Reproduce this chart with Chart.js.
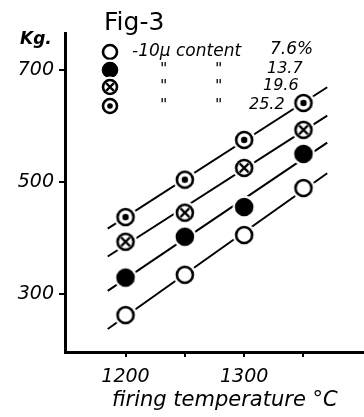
<!DOCTYPE html>
<html>
<head>
<meta charset="utf-8">
<script src="https://cdn.jsdelivr.net/npm/chart.js@4"></script>
<style>
  body { margin: 0; background: #fff; }
</style>
</head>
<body>
<canvas id="fig3" width="364" height="417"></canvas>
<script>
// firing temperature (°C) and strength (kg) for each -10μ content
const temps = [1200, 1250, 1300, 1350];
const c76 = [262, 334, 405, 489];
const c137 = [329, 402, 455, 550];
const c196 = [393, 445, 525, 593];
const c252 = [437, 504, 575, 641];
const contents = ['7.6%', '13.7', '19.6', '25.2'];
const yLabels = [300, 500, 700];
const yTickMarks = [300, 400, 500, 600, 700];
const xLabels = [1200, 1300];
const xTickMarks = [1200, 1250, 1300, 1350];

const hand = "'DejaVu Sans'";
const lineFrom = 1185, lineTo = 1370;

// hand-drawn style markers, white halo leaves a gap in the line
function marker(kind, r) {
  const c = document.createElement('canvas');
  const s = Math.ceil(r * 2 + 10);
  c.width = c.height = s;
  const g = c.getContext('2d');
  const m = s / 2;
  g.fillStyle = '#fff';
  g.beginPath(); g.arc(m, m, r + 3.5, 0, Math.PI * 2); g.fill();
  g.lineWidth = 2.6; g.strokeStyle = '#000';
  g.beginPath(); g.arc(m, m, r, 0, Math.PI * 2);
  if (kind === 'filled') { g.fillStyle = '#000'; g.fill(); }
  g.stroke();
  if (kind === 'cross') {
    const d = r * 0.55;
    g.lineWidth = 2.2;
    g.beginPath();
    g.moveTo(m - d, m - d); g.lineTo(m + d, m + d);
    g.moveTo(m + d, m - d); g.lineTo(m - d, m + d);
    g.stroke();
  }
  if (kind === 'dot') {
    g.fillStyle = '#000';
    g.beginPath(); g.arc(m, m, r * 0.4, 0, Math.PI * 2); g.fill();
  }
  return c;
}

// least squares line through a series
function fit(ys) {
  const n = temps.length;
  const mx = temps.reduce((a, b) => a + b) / n;
  const my = ys.reduce((a, b) => a + b) / n;
  let sxy = 0, sxx = 0;
  temps.forEach((x, i) => { sxy += (x - mx) * (ys[i] - my); sxx += (x - mx) ** 2; });
  const k = sxy / sxx;
  return [lineFrom, lineTo].map(x => ({ x: x, y: my + k * (x - mx) }));
}

const series = [
  { ys: c76, kind: 'open' },
  { ys: c137, kind: 'filled' },
  { ys: c196, kind: 'cross' },
  { ys: c252, kind: 'dot' }
];

const datasets = [];
series.forEach((s, i) => {
  datasets.push({
    label: contents[i],
    data: temps.map((t, j) => ({ x: t, y: s.ys[j] })),
    pointStyle: marker(s.kind, 8),
    showLine: false,
    order: 1
  });
  datasets.push({
    label: contents[i] + ' fit',
    data: fit(s.ys),
    showLine: true,
    borderColor: '#000',
    borderWidth: 2,
    pointRadius: 0,
    order: 2
  });
});

const notes = {
  id: 'notes',
  afterDraw(chart) {
    const ctx = chart.ctx;
    ctx.save();
    ctx.fillStyle = '#000';
    ctx.textBaseline = 'alphabetic';
    ctx.font = '25px ' + hand;
    ctx.fillText('Fig-3', 104, 30);
    ctx.font = 'italic bold 17px ' + hand;
    ctx.fillText('Kg.', 20, 44);
    ctx.font = 'italic 21px ' + hand;
    ctx.fillText('firing temperature °C', 112, 406);

    const rows = [52, 70, 87, 106];
    series.forEach((s, i) => {
      const img = marker(s.kind, 7);
      ctx.drawImage(img, 110 - img.width / 2, rows[i] - img.height / 2);
    });
    ctx.font = 'italic 17px ' + hand;
    ctx.textBaseline = 'middle';
    ctx.fillText('-10μ content', 132, rows[0]);
    ctx.fillText(contents[0], 270, rows[0] - 2);
    ctx.font = 'italic 16px ' + hand;
    const valX = [270, 267, 263, 249];
    for (let i = 1; i < 4; i++) {
      ctx.fillText('"', 160, rows[i]);
      ctx.fillText('"', 215, rows[i]);
      ctx.fillText(contents[i], valX[i], rows[i] - 1);
    }
    ctx.restore();
  }
};

new Chart(document.getElementById('fig3'), {
  type: 'scatter',
  data: { datasets: datasets },
  options: {
    responsive: false,
    animation: false,
    layout: { autoPadding: false, padding: { top: 33, left: 0, right: 0, bottom: 0 } },
    plugins: { legend: { display: false }, tooltip: { enabled: false } },
    scales: {
      x: {
        type: 'linear',
        min: 1149,
        max: 1401,
        afterBuildTicks(s) { s.ticks = xTickMarks.map(v => ({ value: v })); },
        afterFit(s) { s.height = 65; },
        border: { color: '#000', width: 3 },
        grid: {
          drawOnChartArea: false,
          tickLength: 5,
          lineWidth: 2,
          color: '#000'
        },
        ticks: {
          autoSkip: false,
          maxRotation: 0,
          padding: 9,
          color: '#000',
          font: { family: hand, size: 19, style: 'italic' },
          callback: v => xLabels.includes(v) ? String(v) : ''
        }
      },
      y: {
        type: 'linear',
        min: 196,
        max: 766,
        afterBuildTicks(s) { s.ticks = yTickMarks.map(v => ({ value: v })); },
        afterFit(s) { s.width = 65; },
        border: { color: '#000', width: 3 },
        grid: {
          drawOnChartArea: false,
          tickLength: 6,
          lineWidth: 2,
          color: c => yLabels.includes(c.tick.value) ? '#000' : 'rgba(0,0,0,0)'
        },
        ticks: {
          autoSkip: false,
          padding: 5,
          color: '#000',
          font: { family: hand, size: 19, style: 'italic' },
          callback: v => yLabels.includes(v) ? String(v) : ''
        }
      }
    }
  },
  plugins: [notes]
});
</script>
</body>
</html>
